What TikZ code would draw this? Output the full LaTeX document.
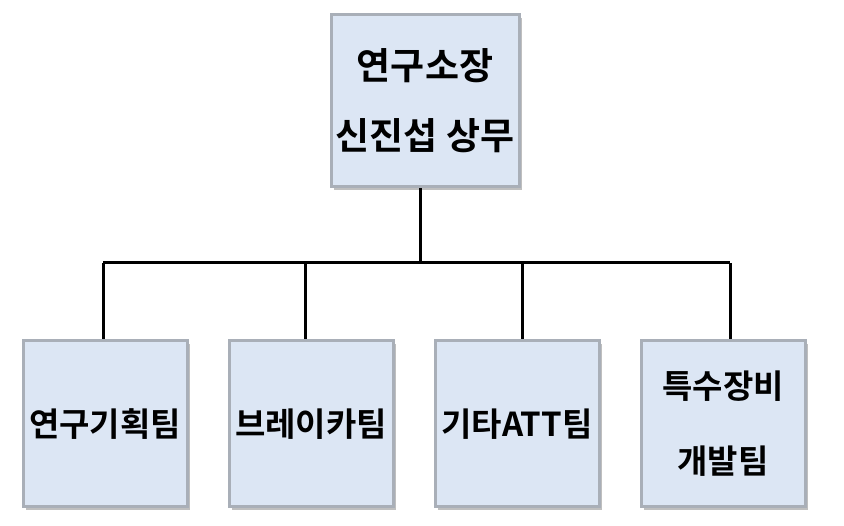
\documentclass[tikz,border=0pt]{standalone}
\usepackage{fontspec}
\newfontfamily\kr{Noto Sans CJK KR Bold}
\usetikzlibrary{shadows}
\definecolor{boxfill}{HTML}{DCE6F4}
\definecolor{bevel}{HTML}{A9AFB8}
\tikzset{
  org/.style={draw=bevel, line width=3pt, fill=boxfill, minimum width=164pt, minimum height=166pt,
    drop shadow={shadow xshift=3pt, shadow yshift=-3pt, opacity=0.5}, inner sep=0pt,
    align=center, font=\kr\fontsize{33}{75}\selectfont},
  topbox/.style={org, minimum width=188pt, minimum height=172pt, font=\kr\fontsize{37}{70}\selectfont},
  link/.style={line width=3pt}
}
\begin{document}
\begin{tikzpicture}[x=1pt,y=1pt]
\useasboundingbox (0,0) rectangle (844,-526);
\node[topbox] (top) at (425,-101) {연구소장\\신진섭 상무};
\node[org] (a) at (105,-424) {연구기획팀};
\node[org] (b) at (311,-424) {브레이카팀};
\node[org] (c) at (517,-424) {기타ATT팀};
\node[org] (d) at (723,-424) {특수장비\\개발팀};
\coordinate (j) at (420,-263);
\coordinate (ja) at (103,-263);
\coordinate (jb) at (305,-263);
\coordinate (jc) at (522,-263);
\coordinate (jd) at (730,-263);
\draw[link] (top.south -| j) -- (j);
\draw[link] (ja) -- (jd);
\draw[link] (ja) -- (ja |- a.north);
\draw[link] (jb) -- (jb |- b.north);
\draw[link] (jc) -- (jc |- c.north);
\draw[link] (jd) -- (jd |- d.north);
\end{tikzpicture}
\end{document}
